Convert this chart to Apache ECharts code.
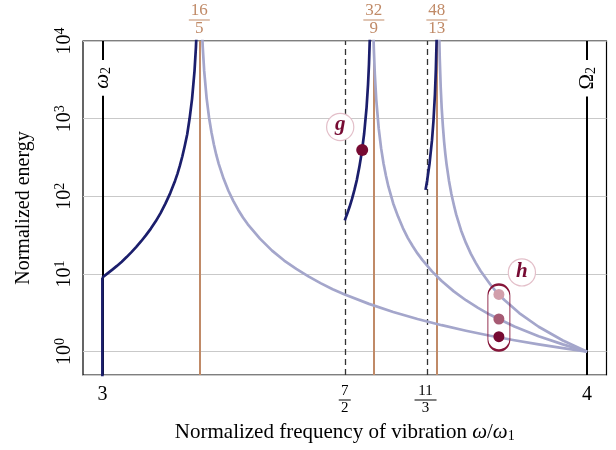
<!DOCTYPE html>
<html><head><meta charset="utf-8">
<script src="https://cdn.jsdelivr.net/npm/echarts@6/dist/echarts.min.js"></script>
<style>html,body{margin:0;padding:0;background:#fff}#c{width:616px;height:450px}</style>
</head><body><div id="c"></div>
<script>
// ---------- data ----------
const xTicks = [3, 7/2, 11/3, 4];
const xTickLabels = ['3', '7/2', '11/3', '4'];
const resonances = [16/5, 32/9, 48/13];
const resonanceLabels = ['16/5', '32/9', '48/13'];
const cutoffs = [7/2, 11/3];
const bandEdges = [3, 4];
const bandEdgeLabels = ['{it|ω}{sub|2}', '{up|Ω}{sub|2}'];

const darkStem = [[3, 0.3], [3, 9]];
const darkBranch1 = [[3.00, 9], [3.01, 10.1], [3.02, 11.3], [3.03, 12.7], [3.04, 14.4], [3.05, 16.5],
  [3.06, 19.1], [3.07, 22.3], [3.08, 26.4], [3.09, 31.6], [3.10, 38.4], [3.11, 47.6], [3.12, 60.8],
  [3.13, 80.4], [3.14, 110], [3.15, 159], [3.155, 196], [3.16, 250], [3.165, 328], [3.17, 447],
  [3.175, 630], [3.18, 1010], [3.185, 1800], [3.19, 4070], [3.193, 8320], [3.195, 16300]];
const darkBranch2 = [[3.50, 49], [3.505, 59.5], [3.51, 73.3], [3.515, 92.6], [3.52, 121], [3.525, 163],
  [3.53, 236], [3.535, 365], [3.54, 639], [3.545, 1390], [3.548, 2720], [3.55, 5040], [3.552, 12300]];
const darkBranch3 = [[3.6667, 121], [3.67, 160], [3.675, 267], [3.68, 529], [3.683, 927],
  [3.686, 2020], [3.688, 4340], [3.6895, 10200], [3.690, 15100]];

const lightBranch1 = [[3.205, 16400], [3.207, 8400], [3.21, 4120], [3.215, 1840], [3.22, 1037],
  [3.225, 670], [3.23, 464], [3.235, 341], [3.24, 262], [3.25, 169], [3.26, 118], [3.27, 87.5],
  [3.28, 67.2], [3.29, 53.4], [3.30, 43.6], [3.325, 28.5], [3.35, 20.0], [3.375, 14.9], [3.40, 11.6],
  [3.425, 9.31], [3.45, 7.62], [3.475, 6.37], [3.50, 5.44], [3.55, 4.12], [3.60, 3.24], [3.65, 2.63],
  [3.70, 2.19], [3.75, 1.86], [3.80, 1.60], [3.85, 1.40], [3.90, 1.24], [3.95, 1.11], [4.00, 1]];
const lightBranch2 = [[3.559, 13200], [3.56, 7920], [3.562, 3770], [3.565, 1760], [3.57, 754],
  [3.575, 417], [3.58, 265], [3.585, 184], [3.59, 134], [3.60, 81], [3.61, 54.8], [3.62, 39.0],
  [3.63, 29.2], [3.64, 22.9], [3.65, 18.4], [3.66, 15.2], [3.68, 10.8], [3.70, 8.10], [3.725, 5.97],
  [3.75, 4.59], [3.775, 3.66], [3.80, 2.98], [3.85, 2.11], [3.90, 1.58], [3.95, 1.24], [4.00, 1]];
const lightBranch3 = [[3.6948, 13000], [3.696, 5930], [3.698, 2500], [3.70, 1369], [3.7025, 795],
  [3.705, 504], [3.7075, 351], [3.71, 260], [3.715, 159], [3.72, 107], [3.725, 77.8], [3.73, 58.0],
  [3.74, 36.4], [3.75, 25.1], [3.76, 18.3], [3.77, 14.0], [3.78, 11.0], [3.80, 7.37], [3.815, 5.62],
  [3.83, 4.58], [3.86, 3.14], [3.90, 2.09], [3.95, 1.39], [4.00, 1]];

const pointG = [[3.536, 395]];
const pointsH = [[3.818, 5.46], [3.818, 2.63], [3.818, 1.56]];
const groupH = [[3.818, 2.75]];

// ---------- styles ----------
const SERIF = "'Liberation Serif', 'DejaVu Serif', serif";
const NAVY = '#1b1e6c', LAV = '#a4a6cb', ORANGE = '#c08a67', MAROON = '#760a32';
const hColors = ['#d29fab', '#a65a73', '#760a32'];

function fracRich(label, p) {
  const parts = label.split('/');
  if (parts.length < 2) return '{' + p + 'i|' + label + '}';
  const bar = parts[0].length > 1 ? 'bw' : 'bn';
  return '{' + p + 'n|' + parts[0] + '}\n{' + p + bar + '|\u00a0}\n{' + p + 'd|' + parts[1] + '}';
}

const xRich = {
  xi: {fontSize: 20, lineHeight: 20, fontFamily: SERIF, color: '#000', align: 'center'},
  xn: {fontSize: 15, lineHeight: 13, fontFamily: SERIF, color: '#000', align: 'center'},
  xd: {fontSize: 15, lineHeight: 13, fontFamily: SERIF, color: '#000', align: 'center'},
  xbn: {width: 12, height: 1, fontSize: 1, lineHeight: 4, backgroundColor: '#000', align: 'center'},
  xbw: {width: 22, height: 1, fontSize: 1, lineHeight: 4, backgroundColor: '#000', align: 'center'}
};
const tRich = {
  tn: {fontSize: 17, lineHeight: 14, fontFamily: SERIF, color: ORANGE, align: 'center'},
  td: {fontSize: 17, lineHeight: 14, fontFamily: SERIF, color: ORANGE, align: 'center'},
  tbn: {width: 12, height: 1, fontSize: 1, lineHeight: 4, backgroundColor: ORANGE, align: 'center'},
  tbw: {width: 21, height: 1, fontSize: 1, lineHeight: 4, backgroundColor: ORANGE, align: 'center'}
};

const markData = [];
resonances.forEach((v, i) => markData.push({
  xAxis: v,
  lineStyle: {color: ORANGE, width: 2, type: 'solid'},
  label: {show: true, position: 'end', distance: 5, formatter: fracRich(resonanceLabels[i], 't'), rich: tRich}
}));
cutoffs.forEach(v => markData.push({
  xAxis: v,
  lineStyle: {color: '#333', width: 1.3, type: [6, 4]},
  label: {show: false}
}));
bandEdges.forEach((v, i) => markData.push({
  xAxis: v,
  lineStyle: {color: '#000', width: 2, type: 'solid'},
  label: {
    show: true, position: 'insideEnd', distance: [19, 0], formatter: bandEdgeLabels[i],
    backgroundColor: '#fff', padding: [3, 7],
    rich: {
      it: {fontSize: 21, fontStyle: 'italic', fontFamily: SERIF, color: '#000'},
      up: {fontSize: 21, fontFamily: SERIF, color: '#000'},
      sub: {fontSize: 14, fontFamily: SERIF, color: '#000', padding: [8, 0, 0, 0]}
    }
  }
}));

function curve(data, color, z) {
  return {type: 'line', data: data, symbol: 'none', smooth: false,
    lineStyle: {color: color, width: 2.7, join: 'round'}, z: z, silent: true};
}

const chart = echarts.init(document.getElementById('c'), null, {renderer: 'canvas'});
chart.setOption({
  animation: false,
  backgroundColor: '#fff',
  grid: {left: 83, right: 9.5, top: 41, bottom: 75, show: true, borderColor: '#000', borderWidth: 1.2},
  xAxis: {
    type: 'value', min: 2.96, max: 4.04,
    axisLine: {show: false}, axisTick: {show: false}, splitLine: {show: false},
    axisLabel: {
      customValues: xTicks, margin: 10,
      formatter: v => {
        const i = xTicks.findIndex(t => Math.abs(t - v) < 1e-6);
        return i < 0 ? '' : fracRich(xTickLabels[i], 'x');
      },
      rich: xRich
    },
    name: 'Normalized frequency of vibration {i|ω}/{i|ω}{sub|1}',
    nameLocation: 'middle', nameGap: 46,
    nameTextStyle: {
      fontSize: 21, fontFamily: SERIF, color: '#000',
      rich: {
        i: {fontSize: 21, fontStyle: 'italic', fontFamily: SERIF, color: '#000'},
        sub: {fontSize: 14, fontFamily: SERIF, color: '#000', padding: [8, 0, 0, 0]}
      }
    }
  },
  yAxis: {
    type: 'log', logBase: 10, min: 0.5, max: 10000,
    axisLine: {show: false}, axisTick: {show: false},
    splitLine: {show: true, lineStyle: {color: '#c9c9c9', width: 1.2}},
    axisLabel: {
      rotate: 90, margin: 6,
      formatter: v => {
        const e = Math.log10(v);
        if (Math.abs(e - Math.round(e)) > 1e-6) return '';
        return '{b|10}{sup|' + Math.round(e) + '}';
      },
      rich: {
        b: {fontSize: 20, fontFamily: SERIF, color: '#000'},
        sup: {fontSize: 14, fontFamily: SERIF, color: '#000', padding: [0, 0, 10, 0]}
      }
    },
    name: 'Normalized energy', nameLocation: 'middle', nameGap: 49,
    nameTextStyle: {fontSize: 20, fontFamily: SERIF, color: '#000'}
  },
  series: [
    {type: 'line', data: [], markLine: {silent: true, symbol: ['none', 'none'], z: 1, data: markData}},
    curve(lightBranch1, LAV, 2),
    curve(lightBranch2, LAV, 2),
    curve(lightBranch3, LAV, 2),
    {type: 'line', data: darkStem, symbol: 'none', lineStyle: {color: NAVY, width: 2.7}, z: 3},
    curve(darkBranch1, NAVY, 3),
    curve(darkBranch2, NAVY, 3),
    curve(darkBranch3, NAVY, 3),
    {type: 'scatter', data: groupH, z: 4, symbol: 'path://M0,11 A11,11 0 0 1 22,11 L22,55 A11,11 0 0 1 0,55 Z',
      symbolSize: [22, 66], itemStyle: {opacity: 1, color: 'rgba(255,255,255,0)', borderColor: '#861539', borderWidth: 1.5}},
    {type: 'scatter', data: pointsH.map((p, i) => ({value: p, itemStyle: {color: hColors[i], opacity: 1},
        label: i === 0 ? {show: true, position: 'inside', offset: [23, -22], formatter: '{h|h}',
          width: 26, height: 26, borderRadius: 13, backgroundColor: '#fff', borderColor: '#e3bfc9', borderWidth: 1.2,
          rich: {h: {fontSize: 21, fontStyle: 'italic', fontWeight: 'bold', fontFamily: SERIF, color: MAROON, width: 26, align: 'center', lineHeight: 24}}}
          : {show: false}})),
      symbolSize: 11, z: 5},
    {type: 'scatter', data: pointG, symbolSize: 12, itemStyle: {color: MAROON, opacity: 1}, z: 5,
      label: {show: true, position: 'inside', offset: [-22, -23], formatter: '{g|g}',
        width: 26, height: 26, borderRadius: 13, backgroundColor: '#fff', borderColor: '#e3bfc9', borderWidth: 1.2,
        rich: {g: {fontSize: 21, fontStyle: 'italic', fontWeight: 'bold', fontFamily: SERIF, color: MAROON, width: 26, align: 'center', lineHeight: 22}}}}
  ]
});
</script></body></html>
